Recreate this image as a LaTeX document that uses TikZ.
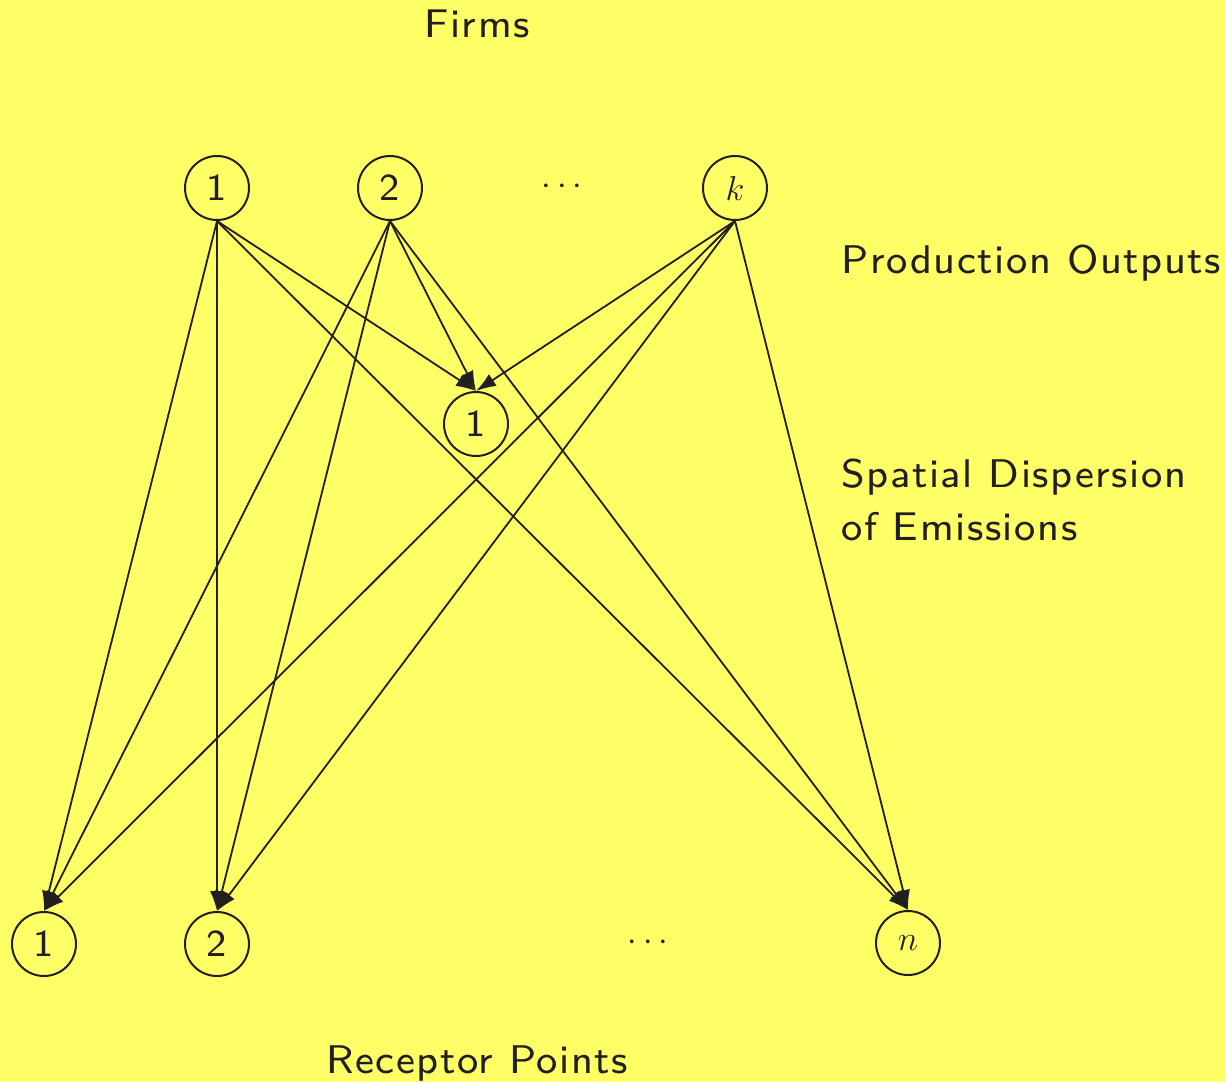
\documentclass[tikz,border=0pt]{standalone}
\usepackage{fontspec}
\usetikzlibrary{arrows.meta}
\newfontfamily\labfont[Extension=.otf, LetterSpace=4]{lmsans8-regular}
\newfontfamily\numfont[Extension=.otf]{lmsans8-regular}
\definecolor{bgyellow}{RGB}{255,255,102}
\definecolor{ink}{RGB}{34,31,32}
\tikzset{
  px/.style={x=0.5pt, y=-0.5pt},
  vertex/.style={circle, draw=ink, line width=1pt, minimum size=32pt, inner sep=0pt,
    font=\numfont\fontsize{19}{23}\selectfont, text=ink},
  flow/.style={draw=ink, line width=0.9pt, -{Latex[length=10pt, width=7pt]}},
  caption/.style={inner sep=0pt, text=ink, font=\labfont\fontsize{20}{24}\selectfont},
  ellipsis/.style={inner sep=0pt, text=ink, font=\fontsize{19}{23}\selectfont}
}
\begin{document}
\begin{tikzpicture}[px]
  \fill[bgyellow] (0,0) rectangle (1226,1082);
  \useasboundingbox (0,0) rectangle (1226,1082);

  % firms
  \node[vertex] (f1) at (217,188) {1};
  \node[vertex] (f2) at (390,188) {2};
  \node[ellipsis] (fd) at (562,187) {$\cdots$};
  \node[vertex] (fk) at (735,188) {$k$};

  % intermediate receptor
  \node[vertex] (m1) at (476,424) {1};

  % receptor points
  \node[vertex] (r1) at (44,944) {1};
  \node[vertex] (r2) at (217,944) {2};
  \node[ellipsis] (rd) at (648,943) {$\cdots$};
  \node[vertex] (rn) at (908,943) {$n$};

  % captions
  \node[caption, anchor=base] (tfirms) at (477,37) {Firms};
  \node[caption, anchor=base west] (tprod) at (841,273) {Production Outputs};
  \node[caption, anchor=base west] (tspat) at (841,487) {Spatial Dispersion};
  \node[caption, anchor=base west] (temis) at (841,540) {of Emissions};
  \node[caption, anchor=base] (trec) at (477,1073) {Receptor Points};

  % dispersion links
  \foreach \s in {f1,f2,fk}{
    \draw[flow] (\s.south) -- (m1.north);
    \draw[flow] (\s.south) -- (r1.north);
    \draw[flow] (\s.south) -- (r2.north);
    \draw[flow] (\s.south) -- (rn.north);
  }
\end{tikzpicture}
\end{document}
